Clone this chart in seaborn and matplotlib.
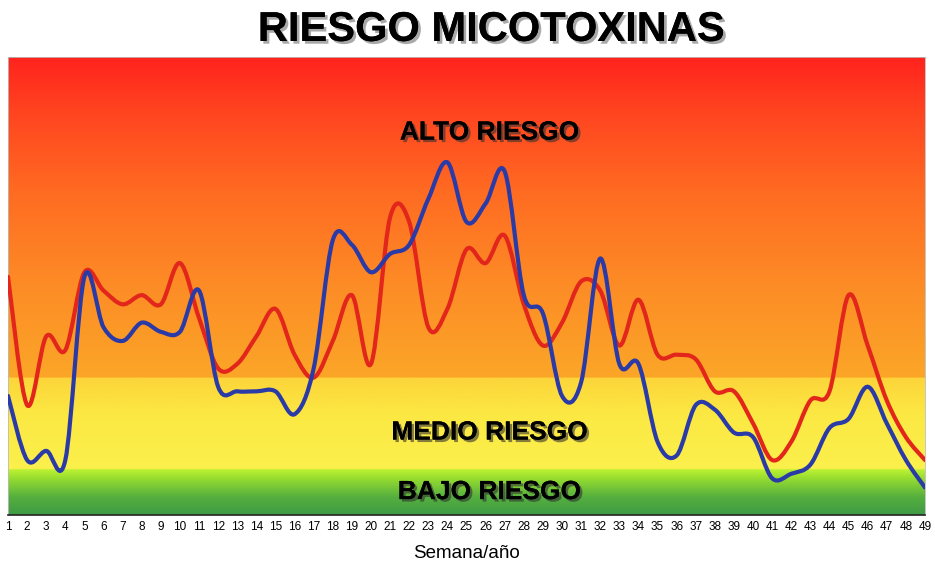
#!/usr/bin/env python3
import numpy as np
import pandas as pd
import matplotlib
matplotlib.use("Agg")
import matplotlib.pyplot as plt
import matplotlib.patheffects as pe
from matplotlib import font_manager
from matplotlib.path import Path
from matplotlib.patches import PathPatch
import seaborn as sns

# Weeks of the year shown on the x axis
WEEKS = list(range(1, 50))

# Risk index (0-100), red series
RED_RISK = [
    52, 24, 39, 36, 53, 49, 46, 48, 46, 55,
    43, 32, 33, 39, 45, 35, 30, 38, 48, 33,
    65, 64, 41, 45, 58, 55, 61, 46, 37, 42,
    51, 49, 37, 47, 35, 35, 34, 27, 27, 20,
    12, 16, 25, 27, 48, 37, 25, 17, 12,
]

# Risk index (0-100), blue series
BLUE_RISK = [
    26, 12, 14, 12, 52, 41, 38, 42, 40, 40,
    49, 28, 27, 27, 27, 22, 32, 60, 59, 53,
    57, 59, 69, 77, 64, 68, 75, 48, 44, 26,
    29, 56, 33, 33, 16, 13, 24, 23, 18, 17,
    8, 9, 11, 19, 21, 28, 20, 12, 6,
]

# Risk zones (lower bound of each band) and their labels
ZONE_LIMITS = [10, 30]
ZONE_LABELS = ["BAJO RIESGO", "MEDIO RIESGO", "ALTO RIESGO"]
ZONE_LABEL_Y = [5, 18, 83.5]

TITLE = "RIESGO MICOTOXINAS"
X_LABEL = "Semana/año"

# Narrow font for the axis texts if we have one
INSTALLED = {f.name for f in font_manager.fontManager.ttflist}
NARROW = "Liberation Sans Narrow" if "Liberation Sans Narrow" in INSTALLED else "Liberation Sans"


def band(lo, hi, stops, n):
    """Colour ramp for one band, stops are (value, hex) pairs."""
    vals = np.linspace(lo, hi, n)
    pos = [s[0] for s in stops]
    rgb = np.array([matplotlib.colors.to_rgb(s[1]) for s in stops])
    return np.stack([np.interp(vals, pos, rgb[:, k]) for k in range(3)], axis=1)


def background_image():
    """Build the green / yellow / orange-red background, bottom row first."""
    green = band(0, ZONE_LIMITS[0], [(0, "#3e9a46"), (4, "#56b03e"),
                                     (8, "#96dc30"), (10, "#bdf232")], 100)
    yellow = band(ZONE_LIMITS[0], ZONE_LIMITS[1], [(10, "#fbf04c"), (22, "#fce843"),
                                                   (30, "#fcd53a")], 200)
    orange = band(ZONE_LIMITS[1], 100, [(30, "#fba628"), (50, "#fd8c26"),
                                        (70, "#ff6c22"), (88, "#ff4420"),
                                        (100, "#ff231d")], 700)
    img = np.concatenate([green, yellow, orange])
    return img[:, None, :]


def smooth_line(ax, line):
    """Redraw a seaborn line as a smooth (Catmull-Rom) bezier path, like Excel's smoothed lines."""
    pts = np.asarray(line.get_xydata(), dtype=float)
    padded = np.vstack([pts[0], pts, pts[-1]])
    verts = [pts[0]]
    codes = [Path.MOVETO]
    for i in range(1, len(padded) - 2):
        p0, p1, p2, p3 = padded[i - 1], padded[i], padded[i + 1], padded[i + 2]
        verts += [p1 + (p2 - p0) / 6, p2 - (p3 - p1) / 6, p2]
        codes += [Path.CURVE4] * 3
    patch = PathPatch(Path(verts, codes), facecolor="none", edgecolor=line.get_color(),
                      linewidth=line.get_linewidth(), capstyle="round",
                      joinstyle="round", zorder=line.get_zorder())
    ax.add_patch(patch)
    line.set_visible(False)


def plot_risk():
    df = pd.DataFrame({"semana": WEEKS, "rojo": RED_RISK, "azul": BLUE_RISK})

    fig = plt.figure(figsize=(9.35, 5.65), dpi=100)
    ax = fig.add_axes([8 / 935, 50 / 565, 917 / 935, 458 / 565])
    sns.set_style("white")

    # Background risk bands
    ax.imshow(background_image(), origin="lower", aspect="auto",
              extent=[1, 49, 0, 100], zorder=0, interpolation="bilinear")

    sns.lineplot(data=df, x="semana", y="rojo", ax=ax, color="#e3261b",
                 linewidth=3, zorder=3)
    sns.lineplot(data=df, x="semana", y="azul", ax=ax, color="#2a3aa6",
                 linewidth=3, zorder=4)
    for line in list(ax.get_lines()):
        smooth_line(ax, line)

    ax.set_xlim(1, 49)
    ax.set_ylim(0, 100)
    ax.set_xticks(WEEKS)
    ax.set_xticklabels([str(w) for w in WEEKS], fontsize=8.5, family=NARROW)
    ax.set_yticks([])
    ax.tick_params(axis="x", length=0, pad=4)
    ax.set_xlabel(X_LABEL, fontsize=13.5, family=NARROW, labelpad=9)
    ax.set_ylabel("")

    for side in ["left", "right", "top"]:
        ax.spines[side].set_color("#bbbbbb")
        ax.spines[side].set_linewidth(0.6)
    ax.spines["bottom"].set_color("#222222")
    ax.spines["bottom"].set_linewidth(1.2)

    # Zone labels with drop shadow
    shadow = [pe.withSimplePatchShadow(offset=(1.8, -1.8), shadow_rgbFace="#333333",
                                       alpha=0.6), pe.Normal()]
    for label, y in zip(ZONE_LABELS, ZONE_LABEL_Y):
        ax.text(26.2, y, label, ha="center", va="center", fontsize=19,
                fontweight="bold", family="Liberation Sans", color="black",
                path_effects=shadow, zorder=5)

    fig.text(0.525, 0.947, TITLE, ha="center", va="center", fontsize=30,
             fontweight="bold", family="Liberation Sans", color="black",
             path_effects=[pe.withSimplePatchShadow(offset=(2, -2),
                                                    shadow_rgbFace="#555555",
                                                    alpha=0.5), pe.Normal()])

    fig.savefig("out.png", dpi=100)
    print("Plot saved as out.png")


def main():
    plot_risk()


if __name__ == "__main__":
    main()
